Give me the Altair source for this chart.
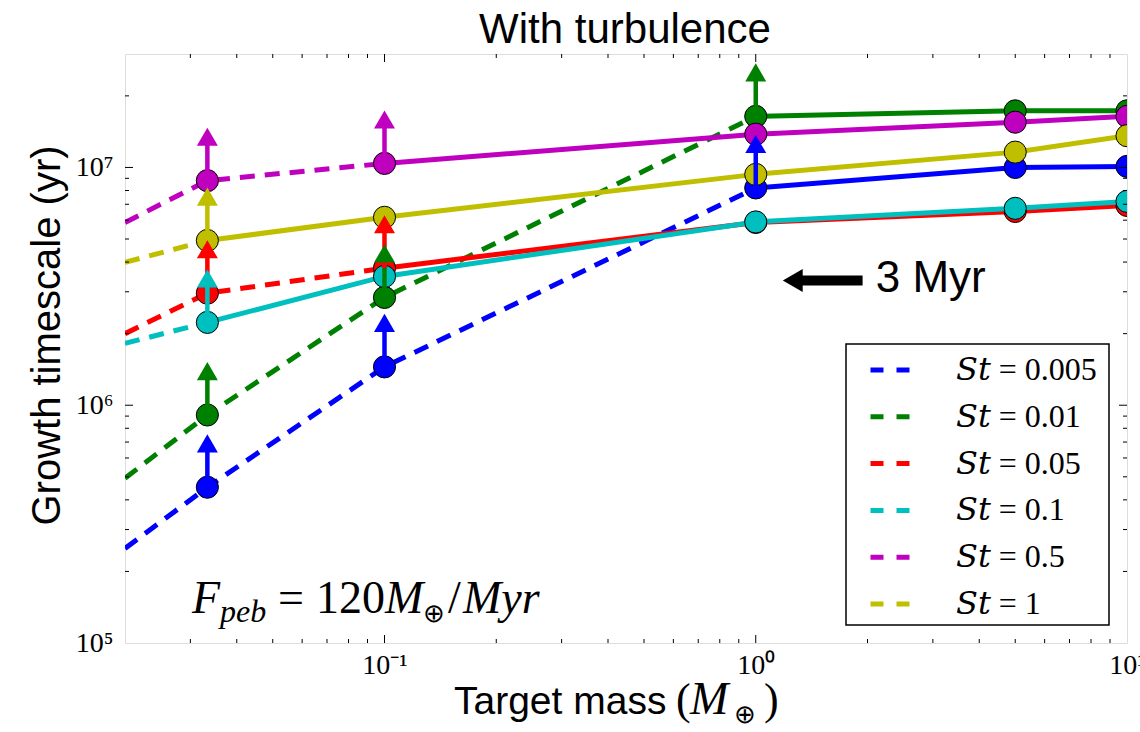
import altair as alt
import pandas as pd

# ---------------- data ----------------
masses = [1 / 30, 0.1, 1.0, 5.0, 10.0]          # target mass (M_earth)
edge_mass = 0.02                                 # left edge where dashed lines start
labels = ["St = 0.005", "St = 0.01", "St = 0.05", "St = 0.1", "St = 0.5", "St = 1"]
colors = ["#0000ff", "#008000", "#ff0000", "#00bfbf", "#bf00bf", "#bfbf00"]

t_st0005 = [4.52e5, 1.45e6, 8.2e6, 1.0e7, 1.01e7]
t_st001 = [9.1e5, 2.84e6, 1.64e7, 1.73e7, 1.73e7]
t_st005 = [2.96e6, 3.77e6, 5.87e6, 6.53e6, 6.92e6]
t_st01 = [2.23e6, 3.48e6, 5.9e6, 6.73e6, 7.2e6]
t_st05 = [8.8e6, 1.04e7, 1.38e7, 1.55e7, 1.64e7]
t_st1 = [4.93e6, 6.17e6, 9.35e6, 1.16e7, 1.36e7]
timescales = [t_st0005, t_st001, t_st005, t_st01, t_st05, t_st1]
edge_values = [2.5e5, 4.93e5, 2.0e6, 1.82e6, 5.87e6, 3.99e6]
solid_from = [2, 2, 1, 0, 1, 0]                  # index where the solid part begins
lower_limit = [
    [1, 1, 1, 0, 0],
    [1, 1, 1, 0, 0],
    [1, 1, 0, 0, 0],
    [1, 0, 0, 0, 0],
    [1, 1, 0, 0, 0],
    [1, 0, 0, 0, 0],
]

x_tick_values = [0.1, 1, 10]
x_tick_labels = ["10\u207b\u00b9", "10\u2070", "10\u00b9"]
y_tick_values = [1e5, 1e6, 1e7]
y_tick_labels = ["10\u2075", "10\u2076", "10\u2077"]
x_minor = [0.03, 0.04, 0.05, 0.06, 0.07, 0.08, 0.09,
           0.2, 0.3, 0.4, 0.5, 0.6, 0.7, 0.8, 0.9,
           2, 3, 4, 5, 6, 7, 8, 9]
x_major = [0.1, 1]
y_minor = [2e5, 3e5, 4e5, 5e5, 6e5, 7e5, 8e5, 9e5,
           2e6, 3e6, 4e6, 5e6, 6e6, 7e6, 8e6, 9e6, 2e7]
y_major = [1e6, 1e7]

myr_arrow_x = [1.258, 1.94]
myr_arrow_y = 3.35e6
myr_text_x = 2.105
myr_text_y = 3.0e6

ARROW_FACTOR = 1.53   # lower-limit arrow length (multiplicative, log axis)

# ---------------- tables ----------------
line_rows, point_rows, arrow_rows = [], [], []
for i, (lab, col) in enumerate(zip(labels, colors)):
    vals = timescales[i]
    k0 = solid_from[i]
    dashed = [(edge_mass, edge_values[i])] + [(masses[k], vals[k]) for k in range(k0 + 1)]
    solid = [(masses[k], vals[k]) for k in range(k0, len(masses))]
    for m, t in dashed:
        line_rows.append(dict(series=i, label=lab, style="dashed", m=m, t=t))
    for m, t in solid:
        line_rows.append(dict(series=i, label=lab, style="solid", m=m, t=t))
    for k, m in enumerate(masses):
        point_rows.append(dict(series=i, label=lab, color=col, m=m, t=vals[k]))
        if lower_limit[i][k]:
            arrow_rows.append(dict(series=i, color=col, m=m, t=vals[k],
                                   t2=vals[k] * ARROW_FACTOR))
lines = pd.DataFrame(line_rows)
points = pd.DataFrame(point_rows)
arrows = pd.DataFrame(arrow_rows)

W, H = 1002, 589
OX, OY = 125, 54

X_SCALE = alt.Scale(type="log", domain=[0.02, 10], nice=False)
Y_SCALE = alt.Scale(type="log", domain=[1e5, 3e7], nice=False)


def label_expr(values, labs):
    expr = "''"
    for v, l in reversed(list(zip(values, labs))):
        expr = f"datum.value == {v:g} ? '{l}' : ({expr})"
    return expr


X_AXIS = alt.Axis(values=x_tick_values, labelExpr=label_expr(x_tick_values, x_tick_labels),
                  ticks=False, domain=False, grid=False, title=None,
                  labelFont="Liberation Serif", labelFontSize=28, labelColor="black",
                  labelPadding=8, labelFlush=False, labelOverlap=False, labelBound=False)
Y_AXIS = alt.Axis(values=y_tick_values, labelExpr=label_expr(y_tick_values, y_tick_labels),
                  ticks=False, domain=False, grid=False,
                  title="Growth timescale (yr)", titleFont="Liberation Sans",
                  titleFontSize=40, titleFontWeight="normal", titleColor="black",
                  titleX=-66, titleY=281, titleBaseline="alphabetic", titleAlign="center",
                  titleAngle=270,
                  labelFont="Liberation Serif", labelFontSize=28, labelColor="black",
                  labelPadding=12, labelFlush=False, labelOverlap=False, labelBaseline="middle")


def X(field="m"):
    return alt.X(f"{field}:Q", scale=X_SCALE, axis=X_AXIS)


def Y(field="t"):
    return alt.Y(f"{field}:Q", scale=Y_SCALE, axis=Y_AXIS)


COLOR = alt.Color("label:N", scale=alt.Scale(domain=labels, range=colors),
                  legend=alt.Legend(orient="none", legendX=743, legendY=294, title=None,
                                    symbolType="stroke", symbolSize=1521,
                                    symbolStrokeWidth=5, symbolDash=[13, 13],
                                    symbolOpacity=1,
                                    labelExpr="replace(datum.label, 'St', '\U0001D446\U0001D461')",
                                    labelFont="Liberation Serif, DejaVu Serif", labelFontSize=32,
                                    labelColor="black", labelOffset=44, rowPadding=8.8,
                                    padding=0, labelLimit=300))

layers = []

# legend frame (under the legend entries)
layers.append(
    alt.Chart(pd.DataFrame({"k": [0]})).mark_rect(fill="white", stroke="black", strokeWidth=1.5)
    .encode(x=alt.value(721), x2=alt.value(984), y=alt.value(290), y2=alt.value(571))
)

for i in range(len(labels)):
    d_dash = lines[(lines.series == i) & (lines["style"] == "dashed")]
    d_solid = lines[(lines.series == i) & (lines["style"] == "solid")]
    layers.append(alt.Chart(d_dash).mark_line(strokeWidth=5, strokeDash=[15, 10], clip=True)
                  .encode(x=X(), y=Y(), color=COLOR))
    layers.append(alt.Chart(d_solid).mark_line(strokeWidth=5, clip=True)
                  .encode(x=X(), y=Y(), color=COLOR))
    layers.append(alt.Chart(points[points.series == i])
                  .mark_circle(size=490, opacity=1, stroke="black", strokeWidth=1, clip=True)
                  .encode(x=X(), y=Y(), color=alt.Color("color:N", scale=None)))

# lower-limit arrows
layers.append(alt.Chart(arrows).mark_rule(strokeWidth=4.5, clip=True)
              .encode(x=X(), y=Y(), y2="t2:Q", color=alt.Color("color:N", scale=None)))
layers.append(alt.Chart(arrows).mark_point(shape="triangle-up", filled=True, size=441,
                                           opacity=1, clip=True)
              .encode(x=X(), y=Y("t2"), color=alt.Color("color:N", scale=None)))

# inward ticks
for vals, ln in [(x_minor, 4), (x_major, 8)]:
    df = pd.DataFrame({"m": vals})
    layers.append(alt.Chart(df).mark_rule(color="black", strokeWidth=1)
                  .encode(x=X(), y=alt.value(H), y2=alt.value(H - ln)))
    layers.append(alt.Chart(df).mark_rule(color="black", strokeWidth=1)
                  .encode(x=X(), y=alt.value(0), y2=alt.value(ln)))
for vals, ln in [(y_minor, 4), (y_major, 8)]:
    df = pd.DataFrame({"t": vals})
    layers.append(alt.Chart(df).mark_rule(color="black", strokeWidth=1)
                  .encode(y=Y(), x=alt.value(0), x2=alt.value(ln)))
    layers.append(alt.Chart(df).mark_rule(color="black", strokeWidth=1)
                  .encode(y=Y(), x=alt.value(W), x2=alt.value(W - ln)))

# 3 Myr annotation
myr = pd.DataFrame({"m": [myr_arrow_x[0]], "m2": [myr_arrow_x[1]], "t": [myr_arrow_y],
                    "tx": [myr_text_x], "ty": [myr_text_y], "txt": ["3 Myr"]})
layers.append(alt.Chart(myr).mark_rule(color="black", strokeWidth=10)
              .encode(x=X(), x2="m2:Q", y=Y()))
layers.append(alt.Chart(myr).mark_point(shape="triangle-left", filled=True, size=529,
                                        color="black", opacity=1)
              .encode(x=X(), y=Y()))
layers.append(alt.Chart(myr).mark_text(font="Liberation Sans", fontSize=44, align="left",
                                       baseline="alphabetic", color="black")
              .encode(x=X("tx"), y=Y("ty"), text="txt:N"))


def txt(s, x, y, size, font="Liberation Serif", style="normal", align="left"):
    return (alt.Chart(pd.DataFrame({"s": [s]}))
            .mark_text(font=font, fontSize=size, fontStyle=style, align=align,
                       baseline="alphabetic", color="black")
            .encode(text="s:N", x=alt.value(x), y=alt.value(y)))


# title
layers.append(txt("With turbulence", 625 - OX, 43 - OY, 42, font="Liberation Sans",
                  align="center"))

# F_peb annotation (positions relative to plot origin)
base = 613 - OY
layers += [
    txt("F", 192 - OX, base, 46, style="italic"),
    txt("peb", 220 - OX, base + 9, 32, style="italic"),
    txt("=", 278 - OX, base, 46),
    txt("120", 316 - OX, base, 46),
    txt("M", 385 - OX, base, 46, style="italic"),
    txt("\u2295", 423 - OX, base + 9, 26),
    txt("/", 448 - OX, base, 46),
    txt("Myr", 463 - OX, base, 46, style="italic"),
]

# x-axis title
xb = 714 - OY
layers += [
    txt("Target mass", 454 - OX, xb, 39, font="Liberation Sans"),
    txt("(", 676 - OX, xb, 44),
    txt("M", 690 - OX, xb, 46, style="italic"),
    txt("\u2295", 734 - OX, xb + 9, 26),
    txt(")", 764 - OX, xb, 44),
]

chart = (
    alt.layer(*layers)
    .properties(width=W, height=H,
                autosize=alt.AutoSizeParams(type="none"),
                padding={"left": OX, "top": OY, "right": 1140 - OX - W, "bottom": 732 - OY - H})
    .configure_view(stroke="black", strokeWidth=1.5)
    .configure(background="white")
)

chart.save("out.html", embed_options={"renderer": "svg", "actions": False})
